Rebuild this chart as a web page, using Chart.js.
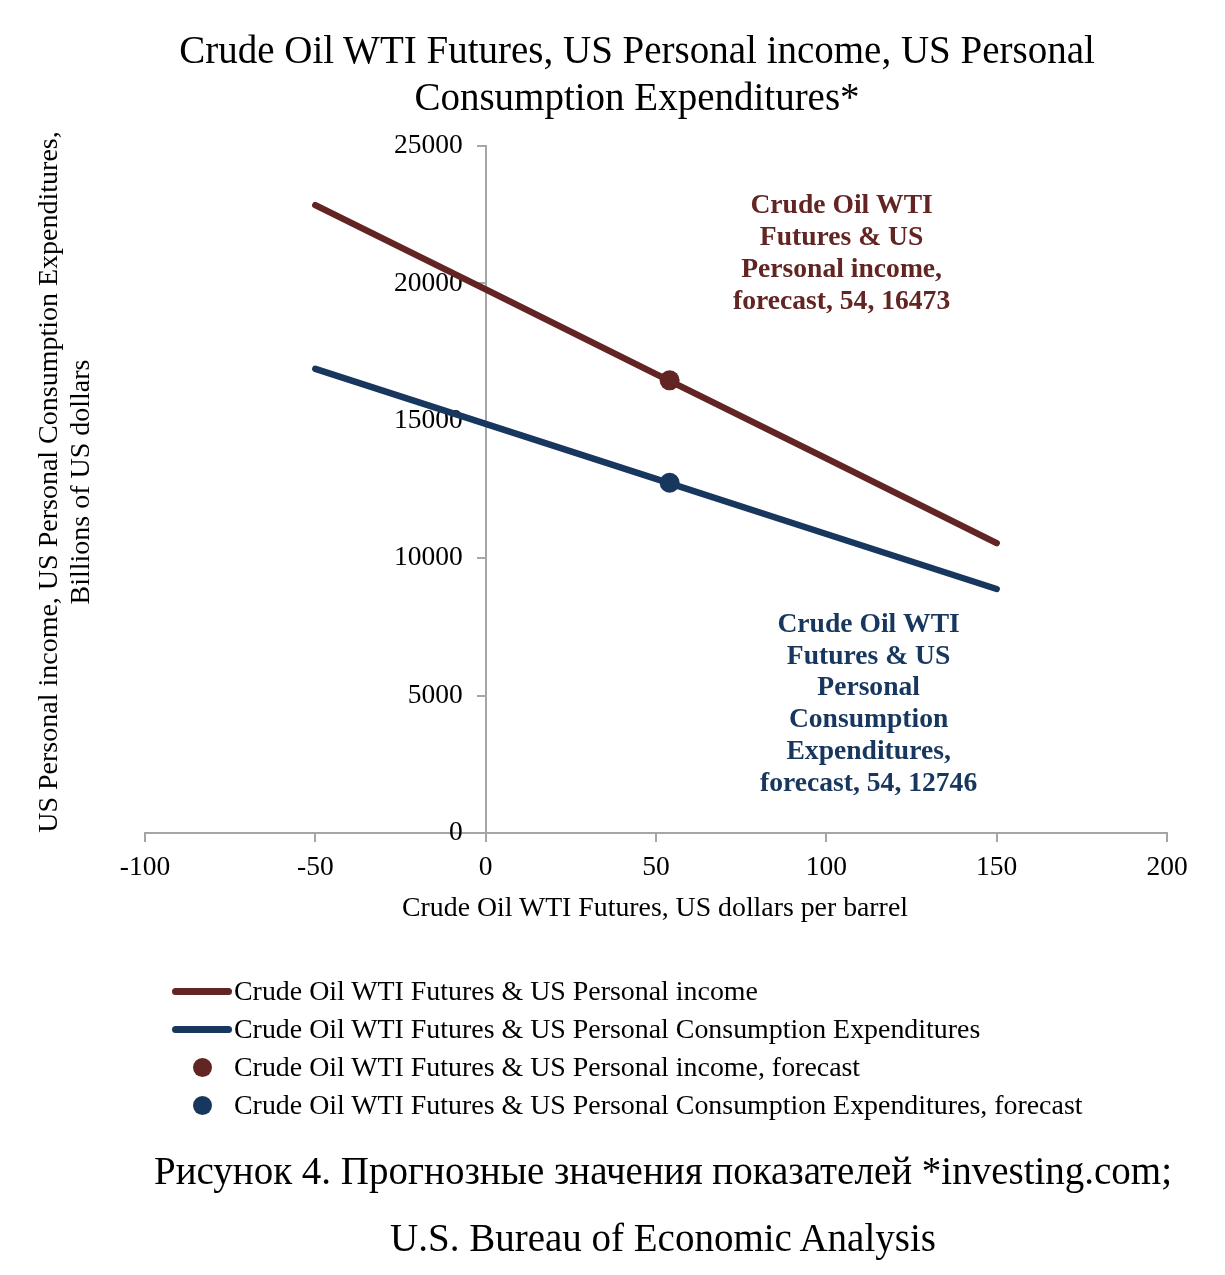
<!DOCTYPE html>
<html>
<head>
<meta charset="utf-8">
<script src="https://cdn.jsdelivr.net/npm/chart.js@4.4.0/dist/chart.umd.min.js"></script>
<style>
  html, body { margin: 0; padding: 0; background: #fff; }
  #wrap { position: relative; width: 1225px; height: 1275px; font-family: "Liberation Serif", "Times New Roman", serif; color: #000; }
  #c { position: absolute; left: 0; top: 0; }
  .t { position: absolute; white-space: nowrap; }
  #title { left: 0; top: 26px; width: 1274px; text-align: center; font-size: 39px; line-height: 47px; }
  #ytitle { width: 900px; left: 64px; top: 482px; text-align: center; font-size: 28px; line-height: 32px; transform: translate(-50%, -50%) rotate(-90deg); }
  #xtitle { left: 655px; top: 907px; transform: translate(-50%, -50%); font-size: 27.8px; }
  .lg { position: absolute; left: 0; height: 38px; font-size: 27.9px; line-height: 38px; }
  .lg .txt { position: absolute; left: 234px; top: 0; white-space: nowrap; }
  .lg .ln { position: absolute; left: 172px; width: 60px; height: 7px; top: 15.5px; border-radius: 3.5px; }
  .lg .dot { position: absolute; left: 192.5px; width: 19px; height: 19px; top: 9.5px; border-radius: 50%; }
  #cap1 { left: 663px; top: 1170px; transform: translate(-50%, -50%); font-size: 39px; }
  #cap2 { left: 663px; top: 1237px; transform: translate(-50%, -50%); font-size: 39px; }
</style>
</head>
<body>
<div id="wrap">
  <canvas id="c" width="1225" height="1275"></canvas>
  <div class="t" id="title"></div>
  <div class="t" id="ytitle"></div>
  <div class="t" id="xtitle"></div>
  <div id="legend"></div>
  <div class="t" id="cap1"></div>
  <div class="t" id="cap2"></div>
</div>
<script>
// ---- data ----
const incomeX = [-50, 0, 50, 100, 150];
const incomeY = [22850, 19780, 16700, 13630, 10550];
const pceX = [-50, 0, 50, 100, 150];
const pceY = [16890, 14890, 12890, 10880, 8880];
const forecastIncome = [54, 16473];
const forecastPce = [54, 12746];
const xTicks = [-100, -50, 0, 50, 100, 150, 200];
const yTicks = [0, 5000, 10000, 15000, 20000, 25000];
const seriesNames = [
  "Crude Oil WTI Futures & US Personal income",
  "Crude Oil WTI Futures & US Personal Consumption Expenditures",
  "Crude Oil WTI Futures & US Personal income, forecast",
  "Crude Oil WTI Futures & US Personal Consumption Expenditures, forecast"
];
const titleLines = ["Crude Oil WTI Futures, US Personal income, US Personal", "Consumption Expenditures*"];
const xTitle = "Crude Oil WTI Futures, US dollars per barrel";
const yTitleLines = ["US Personal income, US Personal Consumption Expenditures,", "Billions of US dollars"];
const captionLines = ["Рисунок 4. Прогнозные значения показателей *investing.com;", "U.S. Bureau of Economic Analysis"];
const labelIncome = ["Crude Oil WTI", "Futures & US", "Personal income,", "forecast, 54, 16473"];
const labelPce = ["Crude Oil WTI", "Futures & US", "Personal", "Consumption", "Expenditures,", "forecast, 54, 12746"];

// ---- styles ----
const RED = "#632523";
const BLUE = "#17375E";
const AXIS = "#a6a6a6";
const FONT = "'Liberation Serif', 'Times New Roman', serif";

document.getElementById('title').innerHTML = titleLines.join('<br>');
document.getElementById('ytitle').innerHTML = yTitleLines.join('<br>');
document.getElementById('xtitle').textContent = xTitle;
document.getElementById('cap1').textContent = captionLines[0];
document.getElementById('cap2').textContent = captionLines[1];

const legendColors = [RED, BLUE, RED, BLUE];
const legendTops = [972, 1010, 1048, 1086];
const lg = document.getElementById('legend');
seriesNames.forEach((n, i) => {
  const row = document.createElement('div');
  row.className = 'lg';
  row.style.top = legendTops[i] + 'px';
  const sw = document.createElement('div');
  sw.className = i < 2 ? 'ln' : 'dot';
  sw.style.background = legendColors[i];
  const tx = document.createElement('div');
  tx.className = 'txt';
  tx.textContent = n;
  row.appendChild(sw); row.appendChild(tx);
  lg.appendChild(row);
});

const toPts = (xs, ys) => xs.map((x, i) => ({x: x, y: ys[i]}));

// Shift y tick labels left of the tick marks (axis sits at x = 0)
const yLabelShift = {
  id: 'yLabelShift',
  afterLayout(chart) {
    const s = chart.scales.y;
    if (s && !s._shifted) {
      const orig = s.drawLabels.bind(s);
      s.drawLabels = function (area) {
        const ctx = this.ctx;
        ctx.save();
        ctx.translate(-23, 0);
        orig(area);
        ctx.restore();
      };
      s._shifted = true;
    }
  }
};

const labelPlugin = {
  id: 'forecastLabels',
  afterDatasetsDraw(chart) {
    const ctx = chart.ctx;
    const xs = chart.scales.x, ys = chart.scales.y;
    const draw = (pt, lines, color, dx, dy) => {
      const px = xs.getPixelForValue(pt[0]) + dx;
      const py = ys.getPixelForValue(pt[1]) + dy;
      ctx.save();
      ctx.fillStyle = color;
      ctx.font = "bold 27.6px " + FONT;
      ctx.textAlign = 'center';
      ctx.textBaseline = 'middle';
      lines.forEach((l, i) => ctx.fillText(l, px, py + i * 31.8));
      ctx.restore();
    };
    draw(forecastIncome, labelIncome, RED, 172, -174);
    draw(forecastPce, labelPce, BLUE, 199, 142);
  }
};

new Chart(document.getElementById('c'), {
  type: 'scatter',
  data: {
    datasets: [
      { label: seriesNames[0], data: toPts(incomeX, incomeY), showLine: true, borderColor: RED, backgroundColor: RED, borderWidth: 6.5, pointRadius: 0, borderCapStyle: 'round' },
      { label: seriesNames[1], data: toPts(pceX, pceY), showLine: true, borderColor: BLUE, backgroundColor: BLUE, borderWidth: 6.5, pointRadius: 0, borderCapStyle: 'round' },
      { label: seriesNames[2], data: [{x: forecastIncome[0], y: forecastIncome[1]}], borderColor: RED, backgroundColor: RED, pointRadius: 10, pointBorderWidth: 0 },
      { label: seriesNames[3], data: [{x: forecastPce[0], y: forecastPce[1]}], borderColor: BLUE, backgroundColor: BLUE, pointRadius: 10, pointBorderWidth: 0 }
    ]
  },
  options: {
    responsive: false,
    animation: false,
    devicePixelRatio: 1,
    layout: { padding: { left: 145, right: 58, top: 146, bottom: 442 } },
    plugins: { legend: { display: false }, title: { display: false }, tooltip: { enabled: false } },
    scales: {
      x: {
        type: 'linear', min: -100, max: 200,
        position: { y: 0 },
        afterBuildTicks: (s) => { s.ticks = xTicks.map(v => ({value: v})); },
        ticks: { color: '#000', font: { family: FONT, size: 27.5 }, padding: 10, callback: (v) => String(v) },
        grid: { drawOnChartArea: false, drawTicks: true, tickLength: 8, color: AXIS, lineWidth: 2 },
        border: { color: AXIS, width: 2 }
      },
      y: {
        type: 'linear', min: 0, max: 25000,
        position: { x: 0 },
        afterBuildTicks: (s) => { s.ticks = yTicks.map(v => ({value: v})); },
        ticks: { color: '#000', font: { family: FONT, size: 27.5 }, padding: 14, callback: (v) => String(v) },
        grid: { drawOnChartArea: false, drawTicks: true, tickLength: 8, color: AXIS, lineWidth: 2 },
        border: { color: AXIS, width: 2 }
      }
    }
  },
  plugins: [yLabelShift, labelPlugin]
});
</script>
</body>
</html>
